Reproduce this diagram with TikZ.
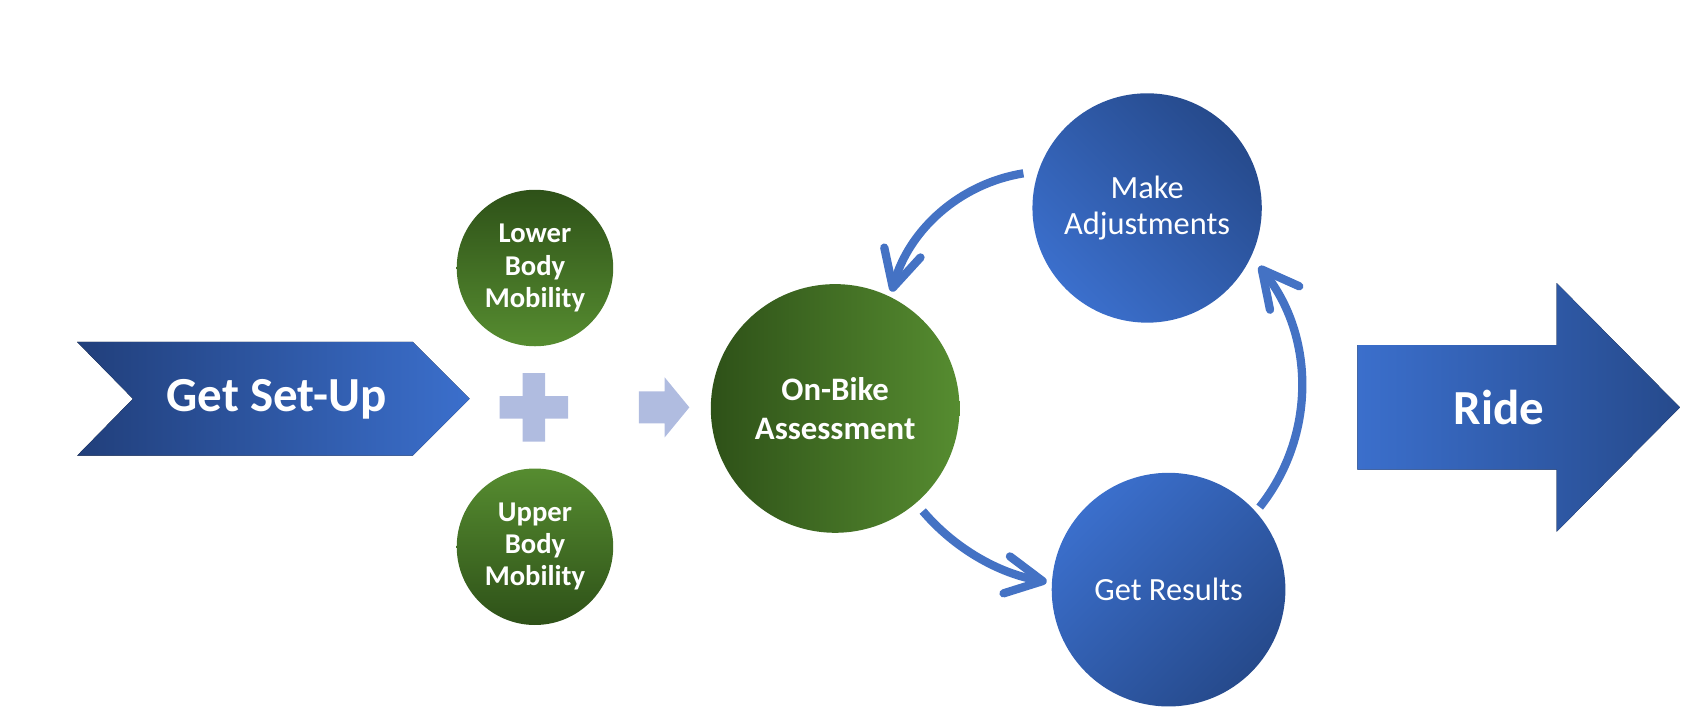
\documentclass[tikz,border=0pt]{standalone}
\usepackage{fontspec}
\setmainfont{Carlito}
\usetikzlibrary{arrows.meta}
\definecolor{bdark}{HTML}{213F7B}
\definecolor{bdarkc}{HTML}{264A8C}
\definecolor{blight}{HTML}{3B6FCC}
\definecolor{gdark}{HTML}{2E5118}
\definecolor{glight}{HTML}{568C30}
\definecolor{lav}{HTML}{B0BCE0}
\definecolor{arcblue}{HTML}{4472C4}
\begin{document}
\begin{tikzpicture}[x=0.02cm,y=-0.02cm,
  gcirc/.style={circle, inner sep=0pt, text=white, align=center,
    font=\bfseries\fontsize{15.2}{17.1}\selectfont},
  bcirc/.style={circle, inner sep=0pt, text=white, align=center,
    font=\fontsize{17.2}{19.5}\selectfont},
  bigtext/.style={text=white, inner sep=0pt, font=\bfseries\fontsize{26}{30}\selectfont},
  cyc/.style={draw=arcblue, line width=4.4pt,
    -{Straight Barb[length=0.68cm,width=0.7cm,round]}},
  lavshape/.style={fill=lav, draw=none}]
\useasboundingbox (0,0) rectangle (1568,668);

% Get Set-Up chevron
\fill[left color=bdark, right color=blight]
  (72,319) -- (385,319) -- (438,372) -- (385,425) -- (72,425) -- (124,372) -- cycle;
\node[bigtext] (setup) at (258,372) {Get Set-Up};

% plus sign
\fill[lavshape] (487.6,348) -- (508.4,348) -- (508.4,369.6) -- (530,369.6) -- (530,390.4)
  -- (508.4,390.4) -- (508.4,412) -- (487.6,412) -- (487.6,390.4) -- (466,390.4)
  -- (466,369.6) -- (487.6,369.6) -- cycle;

% small arrow
\fill[lavshape] (596,365) -- (620,365) -- (620,352) -- (643,380) -- (620,408)
  -- (620,395) -- (596,395) -- cycle;

% green circles
\node[gcirc, minimum size=2.92cm, top color=gdark, bottom color=glight] (lower) at (499,250)
  {Lower\\Body\\Mobility};
\node[gcirc, minimum size=2.92cm, top color=glight, bottom color=gdark] (upper) at (499,510)
  {Upper\\Body\\Mobility};
\node[gcirc, minimum size=4.64cm, left color=gdark, right color=glight,
  font=\bfseries\fontsize{17.4}{20.5}\selectfont] (bike) at (779,381)
  {On-Bike\\Assessment};

% blue circles
\node[bcirc, minimum size=4.28cm, top color=bdarkc, bottom color=blight, shading angle=-45]
  (adjust) at (1070,194) {Make\\Adjustments};
\node[bcirc, minimum size=4.36cm, top color=blight, bottom color=bdarkc, shading angle=45]
  (results) at (1090,550) {Get Results};

% cycle arrows
\coordinate (a1s) at (954.6,161.7);
\coordinate (a2s) at (860.7,476.7);
\coordinate (a3s) at (1175,473);
\draw[cyc] (a1s) arc[start angle=260.9, end angle=195.2, radius=152.2];
\draw[cyc] (a2s) arc[start angle=139.6, end angle=99.8, radius=195.6];
\draw[cyc] (a3s) arc[start angle=38.5, end angle=-38.7, radius=180];

% Ride arrow
\fill[left color=blight, right color=bdarkc]
  (1266,322) -- (1452,322) -- (1452,264) -- (1567,380) -- (1452,496) -- (1452,438)
  -- (1266,438) -- cycle;
\node[bigtext] (ride) at (1398,380) {Ride};
\end{tikzpicture}
\end{document}
